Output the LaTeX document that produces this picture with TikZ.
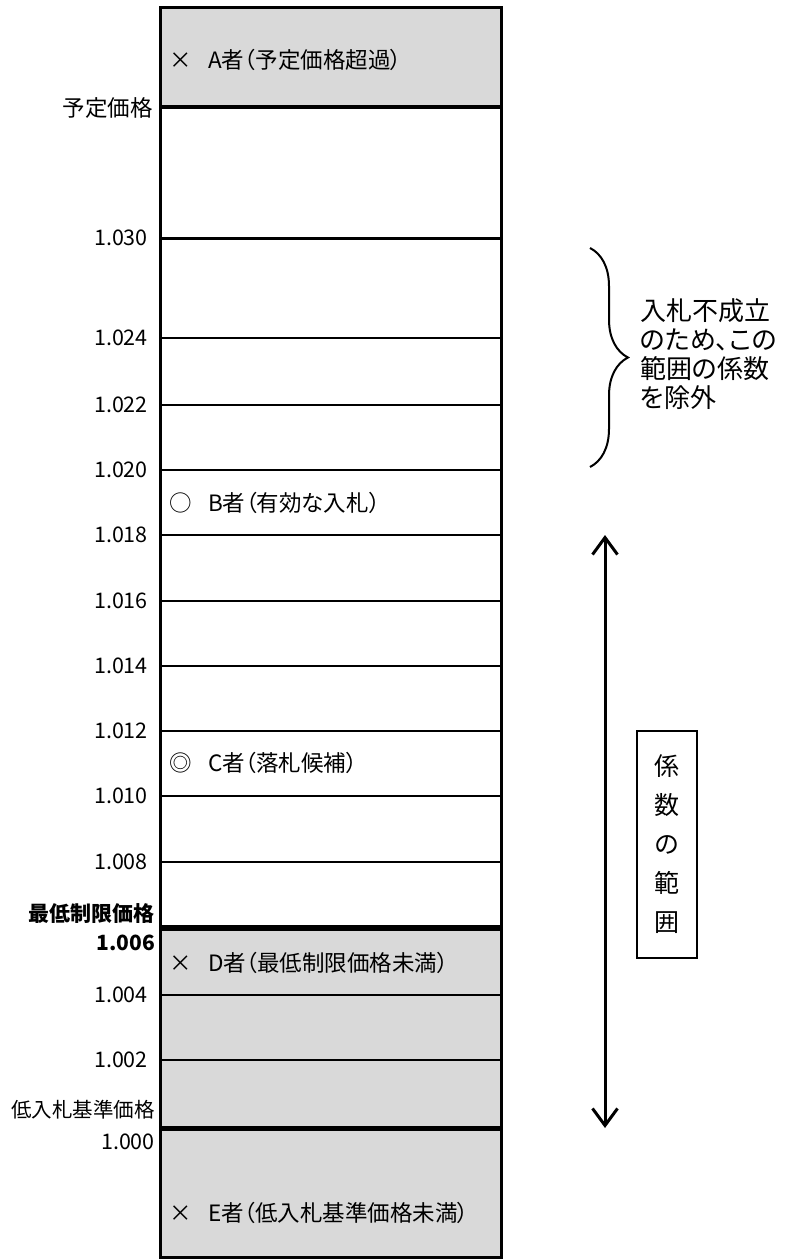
\documentclass[tikz,border=0pt]{standalone}
\usepackage{fontspec}
\setmainfont{Noto Sans CJK JP}[RawFeature=+palt]
\usetikzlibrary{arrows.meta}
\usetikzlibrary{decorations.pathreplacing}
\definecolor{band gray}{RGB}{217,217,217}

\begin{document}
\begin{tikzpicture}[x=1pt,y=-1pt,
				value label/.style={anchor=east,inner sep=0pt,
					font=\fontsize{21.5}{25}\selectfont},
				bold label/.style={value label,
					font=\fontsize{21}{25}\selectfont\bfseries},
				bidder label/.style={anchor=west,inner sep=0pt,
					font=\fontsize{22.5}{26}\selectfont},
				thin rule/.style={line width=1.2pt},
				outer frame/.style={line width=3pt}]
				
				\useasboundingbox (0,0) rectangle (798,1259);
				% shaded bands
				\fill[band gray] (160,7) rectangle (501,107);
				\fill[band gray] (160,928) rectangle (501,1257);
				% rows
				\draw[thin rule] (160,338) -- (501,338);
				\draw[thin rule] (160,405) -- (501,405);
				\draw[thin rule] (160,470) -- (501,470);
				\draw[thin rule] (160,535) -- (501,535);
				\draw[thin rule] (160,601) -- (501,601);
				\draw[thin rule] (160,666) -- (501,666);
				\draw[thin rule] (160,731) -- (501,731);
				\draw[thin rule] (160,796) -- (501,796);
				\draw[thin rule] (160,862) -- (501,862);
				\draw[thin rule] (160,995) -- (501,995);
				\draw[thin rule] (160,1060) -- (501,1060);
				\draw[line width=4pt] (160,107) -- (501,107);
				\draw[line width=3pt] (160,238) -- (501,238);
				\draw[line width=6pt] (160,928) -- (501,928);
				\draw[line width=5pt] (160,1128) -- (501,1128);
				\draw[outer frame] (160,7) rectangle (501,1257);
				
				% values on the left
				\node[value label,font=\fontsize{22.5}{26}\selectfont] (yotei) at (153,108) {予定価格};
				\node[value label] (v1030) at (148,238) {1.030};
				\node[value label] (v1024) at (148,338) {1.024};
				\node[value label] (v1022) at (148,405) {1.022};
				\node[value label] (v1020) at (148,470) {1.020};
				\node[value label] (v1018) at (148,535) {1.018};
				\node[value label] (v1016) at (148,601) {1.016};
				\node[value label] (v1014) at (148,666) {1.014};
				\node[value label] (v1012) at (148,731) {1.012};
				\node[value label] (v1010) at (148,796) {1.010};
				\node[value label] (v1008) at (148,862) {1.008};
				\node[bold label] (saitei) at (155,914) {最低制限価格};
				\node[bold label] (v1006) at (155,943) {1.006};
				\node[value label] (v1004) at (148,995) {1.004};
				\node[value label] (v1002) at (148,1060) {1.002};
				\node[value label,font=\fontsize{20.5}{24}\selectfont] (teinyu) at (155,1110) {低入札基準価格};
				\node[value label] (v1000) at (155,1142) {1.000};
				
				% bidders
				\node[bidder label] (bidA) at (168,60) {\makebox[26pt]{×}\hspace{14pt}A者（予定価格超過）};
				\node[bidder label] (bidB) at (168,503) {\makebox[26pt]{○}\hspace{14pt}B者（有効な入札）};
				\node[bidder label] (bidC) at (168,763) {\makebox[26pt]{◎}\hspace{14pt}C者（落札候補）};
				\node[bidder label] (bidD) at (168,963) {\makebox[26pt]{×}\hspace{14pt}D者（最低制限価格未満）};
				\node[bidder label] (bidE) at (168,1213) {\makebox[26pt]{×}\hspace{14pt}E者（低入札基準価格未満）};
				
				% excluded range
				\coordinate (brace top) at (590,248);
				\coordinate (brace bottom) at (590,467);
				\draw[decorate,decoration={brace,amplitude=38pt},line width=2pt]
				(brace top) -- (brace bottom);
				\node[anchor=west,align=left,inner sep=0pt,
					font=\fontsize{26}{29}\selectfont] (excluded) at (640,354)
				{入札不成立\\のため、この\\範囲の係数\\を除外};
				
				% coefficient range
				\coordinate (range top) at (605,535);
				\coordinate (range bottom) at (605,1128);
				\draw[{Straight Barb[length=17pt,width=25pt]}-{Straight Barb[length=17pt,width=25pt]},
				line width=3pt] (range top) -- (range bottom);
				\node[draw,line width=2pt,minimum width=60pt,minimum height=227pt,
					align=center,font=\fontsize{25}{39}\selectfont] (range box) at (667,844.5)
				{係\\数\\の\\範\\囲};
\end{tikzpicture}
\end{document}
